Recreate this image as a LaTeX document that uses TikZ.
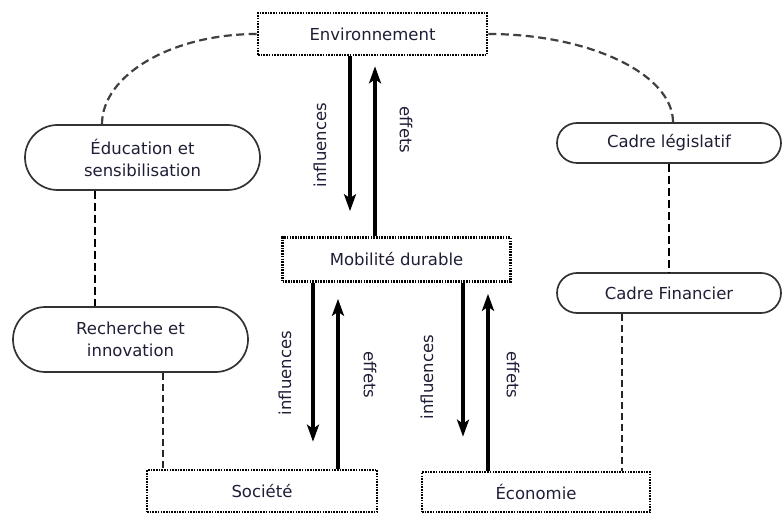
\documentclass[tikz,border=0pt]{standalone}
\usepackage{fontspec}
\setmainfont{DejaVu Sans}
\usetikzlibrary{arrows.meta,shapes.misc}
\definecolor{txt}{HTML}{1E1E36}
\definecolor{curvegray}{HTML}{404040}
\tikzset{
  dotbox/.style={draw=black, line width=2.6pt, dash pattern=on 1.6pt off 1.1pt,
    minimum height=42pt, inner sep=0pt, text=txt, font=\fontsize{16.5}{20}\selectfont},
  pill/.style={draw=black!80, line width=1.7pt, rounded rectangle, inner sep=0pt,
    text=txt, align=center, font=\fontsize{16.5}{22}\selectfont},
  arr/.style={line width=3.2pt, -{Stealth[length=17pt,width=12pt,inset=4pt]}},
  thickdash/.style={line width=2.8pt, dash pattern=on 8pt off 4pt},
  thindash/.style={line width=1.6pt, black!85, dash pattern=on 7pt off 4pt},
  curvedash/.style={line width=2.2pt, curvegray, dash pattern=on 8pt off 4.5pt},
  lbl/.style={text=txt, font=\fontsize{16.5}{20}\selectfont, inner sep=0pt},
}
\begin{document}
\begin{tikzpicture}[x=1pt,y=-1pt]
\useasboundingbox (0,0) rectangle (784,518);

% boxes
\node[dotbox, minimum width=229pt] (env) at (372.5,34) {Environnement};
\node[dotbox, minimum width=228pt, minimum height=44pt] (mob) at (396.5,259.5) {Mobilité durable};
\node[dotbox, minimum width=230pt] (soc) at (262,491) {Société};
\node[dotbox, minimum width=228pt, minimum height=40pt] (eco) at (536,492) {Économie};

% pills
\node[pill, minimum width=235pt, minimum height=65pt] (edu) at (142.5,157.5) {Éducation et\\sensibilisation};
\node[pill, minimum width=235pt, minimum height=65pt] (rec) at (130.5,339.5) {Recherche et\\innovation};
\node[pill, minimum width=224pt, minimum height=40pt] (leg) at (669,143) {Cadre législatif};
\node[pill, minimum width=224pt, minimum height=40pt] (fin) at (669,293) {Cadre Financier};

% x positions of vertical connectors
\coordinate (xa) at (350,0);
\coordinate (xb) at (375,0);
\coordinate (xc) at (313,0);
\coordinate (xd) at (338,0);
\coordinate (xe) at (463,0);
\coordinate (xf) at (488,0);
\coordinate (xg) at (95,0);
\coordinate (xh) at (163,0);
\coordinate (xi) at (622,0);
\coordinate (xj) at (102,0);
\coordinate (xk) at (673,0);

% arrows
\draw[arr, shorten >=25pt] (env.south -| xa) -- (mob.north -| xa);
\draw[arr, shorten >=10pt] (mob.north -| xb) -- (env.south -| xb);
\draw[arr, shorten >=27pt] (mob.south -| xc) -- (soc.north -| xc);
\draw[arr, shorten >=16pt] (soc.north -| xd) -- (mob.south -| xd);
\draw[arr, shorten >=34pt] (mob.south -| xe) -- (eco.north -| xe);
\draw[arr, shorten >=11pt] (eco.north -| xf) -- (mob.south -| xf);

% arrow labels
\node[lbl, rotate=90] (l1) at (320,145) {influences};
\node[lbl, rotate=-90] (l2) at (406,130) {effets};
\node[lbl, rotate=90] (l3) at (285,373) {influences};
\node[lbl, rotate=-90] (l4) at (370,375) {effets};
\node[lbl, rotate=90] (l5) at (427,377) {influences};
\node[lbl, rotate=-90] (l6) at (513,375) {effets};

% dashed connectors
\draw[thickdash] (edu.south -| xg) -- (rec.north -| xg);
\draw[thickdash] (leg.south) -- (fin.north);
\draw[thindash] (rec.south -| xh) -- (soc.north -| xh);
\draw[thindash] (fin.south -| xi) -- (eco.north -| xi);

% top curves
\draw[curvedash] (env.west) .. controls (172,34) and (102,75) .. (edu.north -| xj);
\draw[curvedash] (env.east) .. controls (589,34) and (673,74) .. (leg.north -| xk);
\end{tikzpicture}
\end{document}
